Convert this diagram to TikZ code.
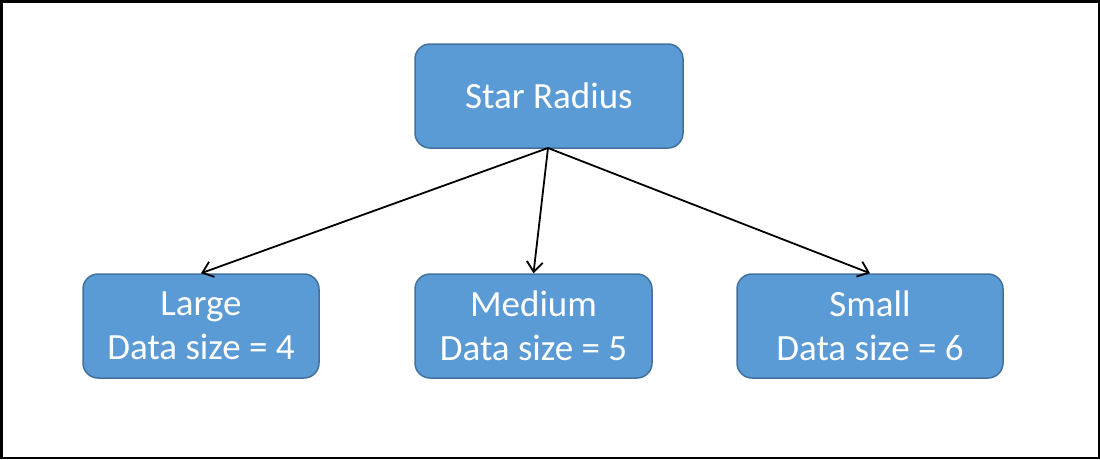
\documentclass[tikz,border=0pt]{standalone}
\usepackage{fontspec}
\setmainfont{Carlito}
\usetikzlibrary{arrows.meta}
\definecolor{boxfill}{HTML}{5B9BD5}
\definecolor{boxline}{HTML}{41719C}
\begin{document}
\begin{tikzpicture}[x=1pt,y=-1pt,
  blockbox/.style={draw=boxline, fill=boxfill, line width=1.5pt, rounded corners=15pt,
    text=white, align=center, inner sep=0pt, minimum height=104pt,
    font=\fontsize{37}{44}\selectfont},
  link/.style={line width=1.8pt, -{Straight Barb[length=10pt,width=16pt,line width=1.8pt]}}]
\useasboundingbox (0,0) rectangle (1100,459);
\draw[line width=2.5pt] (1.25,1.25) rectangle (1098.75,457.75);
\node[blockbox, minimum width=268pt] (sr) at (549,96) {Star Radius};
\node[blockbox, minimum width=236pt] (large) at (201,326) {Large\\Data size = 4};
\node[blockbox, minimum width=237pt] (medium) at (533.5,326) {Medium\\Data size = 5};
\node[blockbox, minimum width=266pt] (small) at (870,326) {Small\\Data size = 6};
\coordinate (src) at (548,148);
\draw[link] (src) -- (large.north);
\draw[link] (src) -- (medium.north);
\draw[link] (src) -- (small.north);
\end{tikzpicture}
\end{document}
